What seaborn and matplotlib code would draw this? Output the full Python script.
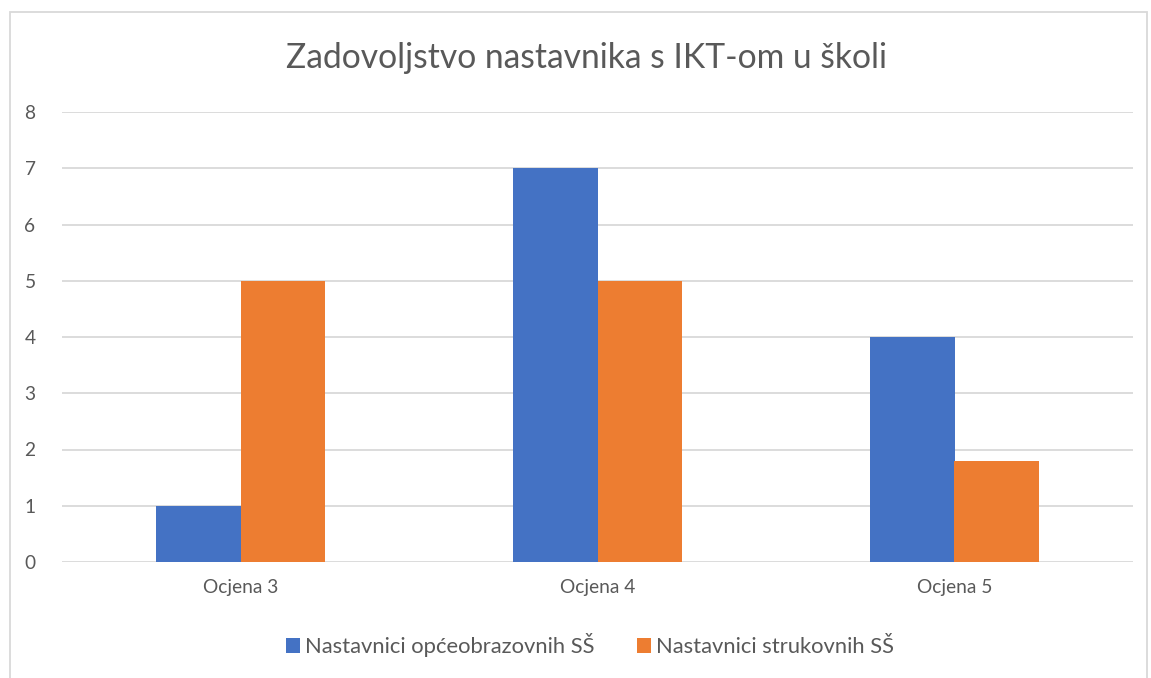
import pandas as pd
import matplotlib.pyplot as plt
import seaborn as sns
from matplotlib.patches import Rectangle

# Data
categories = ['Ocjena 3', 'Ocjena 4', 'Ocjena 5']
series_names = ['Nastavnici općeobrazovnih SŠ', 'Nastavnici strukovnih SŠ']
opce_values = [1, 7, 4]
strukovne_values = [5, 5, 1.8]

df = pd.DataFrame({
    'ocjena': categories * 2,
    'skupina': [series_names[0]] * 3 + [series_names[1]] * 3,
    'broj': opce_values + strukovne_values,
})

sns.set_style('white')
plt.rcParams['font.family'] = ['Lato', 'DejaVu Sans']
text_col = '#595959'

fig = plt.figure(figsize=(11.51, 6.78), dpi=100)
ax = fig.add_axes([62 / 1151, 1 - 562 / 678, (1133 - 62) / 1151, (562 - 112) / 678])

sns.barplot(data=df, x='ocjena', y='broj', hue='skupina',
            palette=['#4472C4', '#ED7D31'], saturation=1, width=0.476,
            linewidth=0, ax=ax, legend=True)

ax.set_ylim(0, 8)
ax.set_xlim(-0.5, 2.5)
ax.set_yticks(range(0, 9))
ax.yaxis.grid(True, color='#D9D9D9', linewidth=1.3)
ax.set_axisbelow(True)
for s in ax.spines.values():
    s.set_visible(False)
ax.tick_params(axis='both', length=0, colors=text_col, labelsize=13.8)
ax.tick_params(axis='y', pad=19)
ax.tick_params(axis='x', pad=12)
ax.set_xlabel('')
ax.set_ylabel('')

# title centred on the chart area, not the plot area
fig.text(586 / 1151, 1 - 58 / 678, 'Zadovoljstvo nastavnika s IKT-om u školi',
         fontsize=24.2, color=text_col, ha='center', va='center')

leg = ax.legend(loc='center', bbox_to_anchor=(590 / 1151, 1 - 645 / 678), bbox_transform=fig.transFigure,
                ncol=2, frameon=False, fontsize=15.8, handlelength=0.65, handleheight=0.65,
                handletextpad=0.25, columnspacing=1.9)
for t in leg.get_texts():
    t.set_color(text_col)

# chart border
fig.patches.append(Rectangle((10 / 1151, -0.05), (1147 - 10) / 1151, 1 - 12 / 678 + 0.05,
                             transform=fig.transFigure, fill=False,
                             edgecolor='#D9D9D9', linewidth=1.3))

plt.savefig('out.png', dpi=100)
